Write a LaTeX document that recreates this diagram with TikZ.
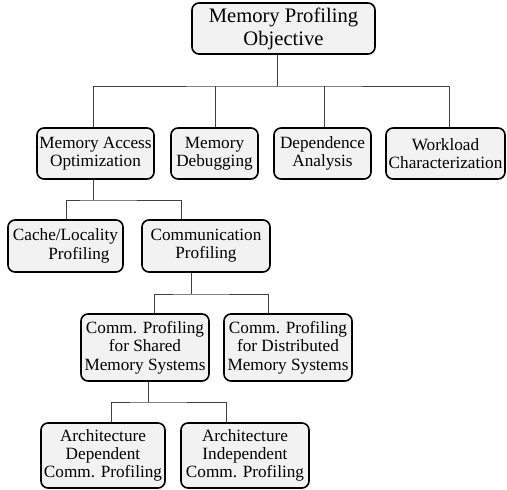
\documentclass[tikz,border=0pt]{standalone}
\usepackage{fontspec}
\setmainfont{Liberation Serif}
\begin{document}
\begin{tikzpicture}[x=1pt,y=-1pt,
  box/.style={draw=black, line width=1.6pt, rounded corners=7pt, fill=gray!10,
    align=center, inner sep=0pt, font=\fontsize{17.2}{18.3}\selectfont},
  conn/.style={draw=black!75, line width=0.9pt}]
\useasboundingbox (0,0) rectangle (507,490);
\node[box, minimum width=183pt, minimum height=51pt, font=\fontsize{20.6}{23}\selectfont] (top) at (283.5,28.5) {Memory Profiling\\Objective};
\node[box, minimum width=117pt, minimum height=51pt] (mao) at (95.5,153.5) {Memory Access\\Optimization};
\node[box, minimum width=87pt, minimum height=51pt] (dbg) at (214.5,153.5) {Memory\\Debugging};
\node[box, minimum width=97pt, minimum height=51pt] (dep) at (322.5,153.5) {Dependence\\Analysis};
\node[box, minimum width=119pt, minimum height=51pt] (wl) at (445.5,153.5) {Workload\\Characterization};
\node[box, minimum width=115pt, minimum height=52pt] (cache) at (65.5,246) {Cache/Locality\\\hspace*{27pt}Profiling};
\node[box, minimum width=128pt, minimum height=52pt] (comm) at (206,246) {Communication\\Profiling};
\node[box, minimum width=128pt, minimum height=67pt] (shared) at (145,347.5) {Comm. Profiling\\for Shared\\Memory Systems};
\node[box, minimum width=128pt, minimum height=67pt] (dist) at (288,347.5) {Comm. Profiling\\for Distributed\\Memory Systems};
\node[box, minimum width=124pt, minimum height=65pt] (adep) at (103,455.5) {Architecture\\Dependent\\Comm. Profiling};
\node[box, minimum width=128pt, minimum height=65pt] (aind) at (245,455.5) {Architecture\\Independent\\Comm. Profiling};
\coordinate (j1) at (277,86);
\coordinate (j2) at (93,200);
\coordinate (j3) at (191,294);
\coordinate (j4) at (148,402);
% level 1 -> 2
\draw[conn] ([xshift=-6.5pt]top.south) -- (j1);
\draw[conn] ([xshift=-2.5pt]mao.north) |- (j1) -| ([xshift=3.5pt]wl.north);
\draw[conn] ([xshift=0.5pt]dbg.north) -- ([xshift=0.5pt]dbg.north |- j1);
\draw[conn] ([xshift=1.5pt]dep.north) -- ([xshift=1.5pt]dep.north |- j1);
% level 2 -> 3
\draw[conn] ([xshift=-2.5pt]mao.south) -- (j2);
\draw[conn] ([xshift=0.5pt]cache.north) |- (j2) -| ([xshift=-25pt]comm.north);
% level 3 -> 4
\draw[conn] ([xshift=-15pt]comm.south) -- (j3);
\draw[conn] ([xshift=9pt]shared.north) |- (j3) -| ([xshift=-20pt]dist.north);
% level 4 -> 5
\draw[conn] ([xshift=3pt]shared.south) -- (j4);
\draw[conn] ([xshift=8pt]adep.north) |- (j4) -| ([xshift=-19pt]aind.north);
\end{tikzpicture}
\end{document}
